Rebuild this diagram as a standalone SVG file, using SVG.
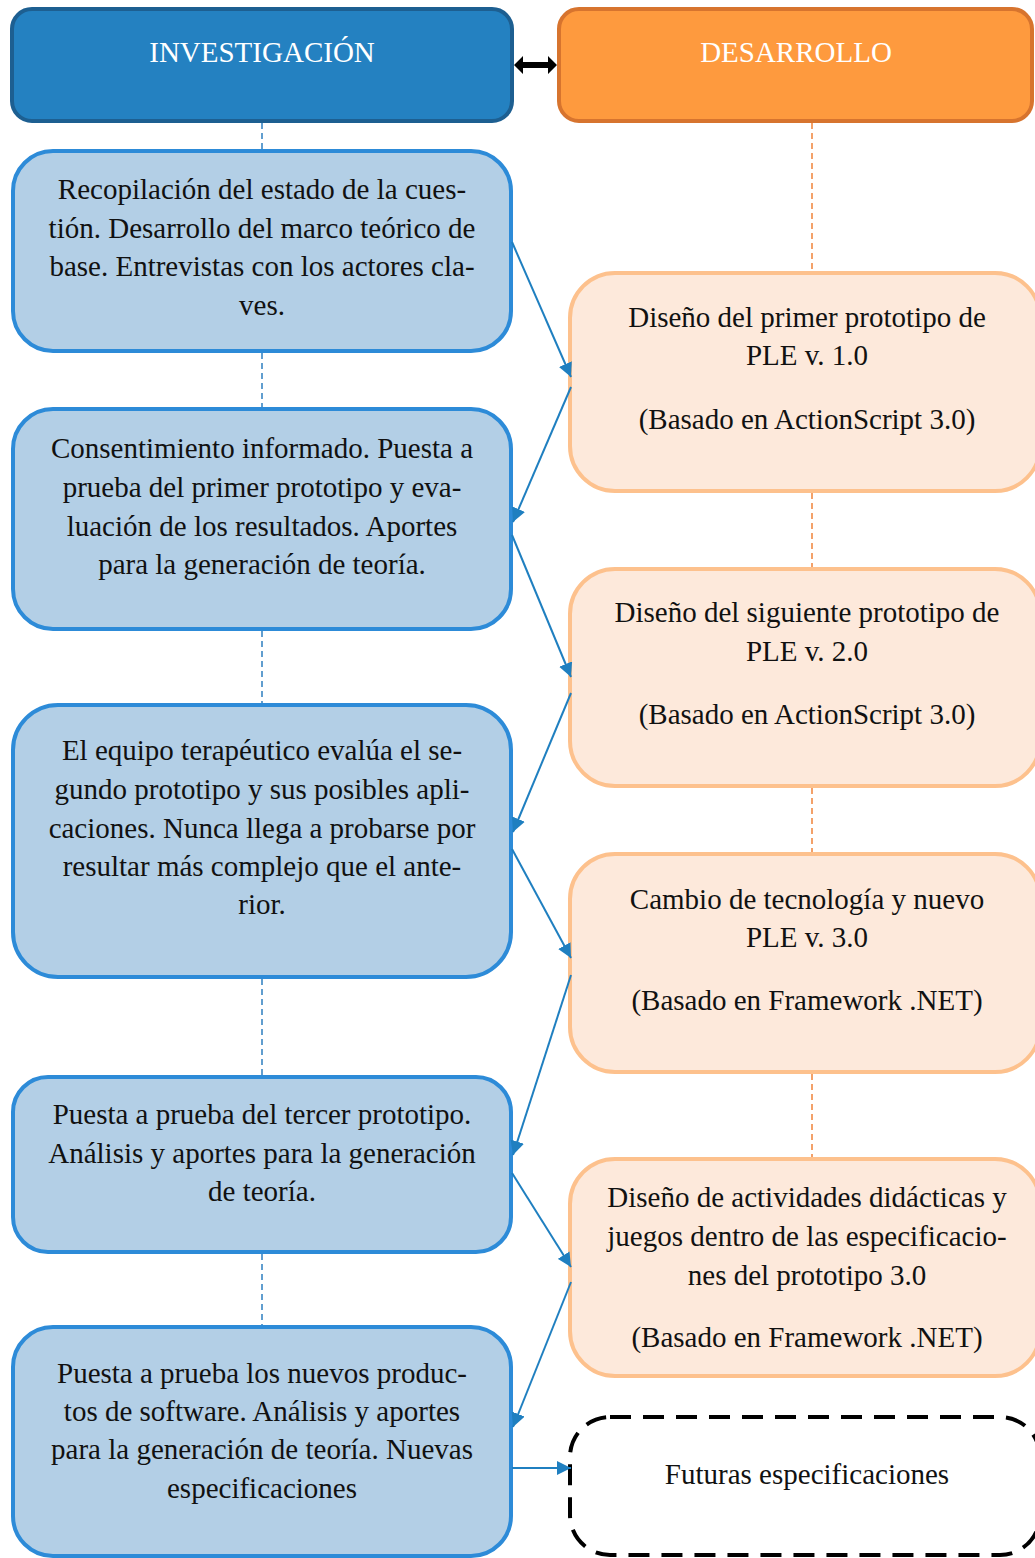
<svg xmlns="http://www.w3.org/2000/svg" width="1035" height="1558" viewBox="0 0 1035 1558">
<defs>
<style>
.hdrL{fill:#2481C1;stroke:#1D5F91;stroke-width:4}
.hdrR{fill:#FE9A3E;stroke:#D7742E;stroke-width:4}
.inv{fill:#B3CFE6;stroke:#2D8BD8;stroke-width:4}
.dev{fill:#FDE9DB;stroke:#FDC18D;stroke-width:4}
.fut{fill:#FFFFFF;stroke:#000000;stroke-width:4;stroke-dasharray:21 12}
.ht{font-family:"Liberation Serif","Times New Roman",serif;font-size:29px;fill:#FFFFFF;text-anchor:middle}
.t{font-family:"Liberation Serif","Times New Roman",serif;font-size:29px;fill:#111111;text-anchor:middle}
.vl{stroke:#2E7FC0;stroke-width:1.5;stroke-dasharray:6 4;fill:none}
.vr{stroke:#F0823A;stroke-width:1.5;stroke-dasharray:6 4;fill:none}
.c{stroke:#1F7FC0;stroke-width:2;fill:none;marker-end:url(#ah)}
</style>
<marker id="ah" markerUnits="userSpaceOnUse" markerWidth="16" markerHeight="14" refX="14" refY="7" orient="auto">
<path d="M0,0 L14,7 L0,14 Z" fill="#1F7FC0"/>
</marker>
</defs>

<g id="hdr-investigacion">
<rect class="hdrL" x="12" y="9" width="500" height="112" rx="20"/>
<text class="ht" x="262" y="62">INVESTIGACIÓN</text>
</g>
<g id="hdr-desarrollo">
<rect class="hdrR" x="559" y="9" width="473" height="112" rx="20"/>
<text class="ht" x="796" y="62">DESARROLLO</text>
</g>

<g id="inv1">
<rect class="inv" x="13" y="151" width="498" height="200" rx="40"/>
<text class="t" x="262" y="199">Recopilación del estado de la cues-</text>
<text class="t" x="262" y="237.5">tión. Desarrollo del marco teórico de</text>
<text class="t" x="262" y="276">base. Entrevistas con los actores cla-</text>
<text class="t" x="262" y="314.5">ves.</text>
</g>
<g id="inv2">
<rect class="inv" x="13" y="409" width="498" height="220" rx="40"/>
<text class="t" x="262" y="458">Consentimiento informado. Puesta a</text>
<text class="t" x="262" y="497">prueba del primer prototipo y eva-</text>
<text class="t" x="262" y="536">luación de los resultados. Aportes</text>
<text class="t" x="262" y="574">para la generación de teoría.</text>
</g>
<g id="inv3">
<rect class="inv" x="13" y="705" width="498" height="272" rx="45"/>
<text class="t" x="262" y="760">El equipo terapéutico evalúa el se-</text>
<text class="t" x="262" y="799">gundo prototipo y sus posibles apli-</text>
<text class="t" x="262" y="838">caciones. Nunca llega a probarse por</text>
<text class="t" x="262" y="876">resultar más complejo que el ante-</text>
<text class="t" x="262" y="914">rior.</text>
</g>
<g id="inv4">
<rect class="inv" x="13" y="1077" width="498" height="175" rx="35"/>
<text class="t" x="262" y="1124">Puesta a prueba del tercer prototipo.</text>
<text class="t" x="262" y="1163">Análisis y aportes para la generación</text>
<text class="t" x="262" y="1201">de teoría.</text>
</g>
<g id="inv5">
<rect class="inv" x="13" y="1327" width="498" height="229" rx="40"/>
<text class="t" x="262" y="1383">Puesta a prueba los nuevos produc-</text>
<text class="t" x="262" y="1421">tos de software. Análisis y aportes</text>
<text class="t" x="262" y="1459">para la generación de teoría. Nuevas</text>
<text class="t" x="262" y="1498">especificaciones</text>
</g>

<g id="dev1">
<rect class="dev" x="570" y="273" width="470" height="218" rx="45"/>
<text class="t" x="807" y="327">Diseño del primer prototipo de</text>
<text class="t" x="807" y="365">PLE v. 1.0</text>
<text class="t" x="807" y="429">(Basado en ActionScript 3.0)</text>
</g>
<g id="dev2">
<rect class="dev" x="570" y="569" width="470" height="217" rx="45"/>
<text class="t" x="807" y="622">Diseño del siguiente prototipo de</text>
<text class="t" x="807" y="661">PLE v. 2.0</text>
<text class="t" x="807" y="724">(Basado en ActionScript 3.0)</text>
</g>
<g id="dev3">
<rect class="dev" x="570" y="854" width="470" height="218" rx="45"/>
<text class="t" x="807" y="909">Cambio de tecnología y nuevo</text>
<text class="t" x="807" y="947">PLE v. 3.0</text>
<text class="t" x="807" y="1010">(Basado en Framework .NET)</text>
</g>
<g id="dev4">
<rect class="dev" x="570" y="1159" width="470" height="217" rx="45"/>
<text class="t" x="807" y="1207">Diseño de actividades didácticas y</text>
<text class="t" x="807" y="1246">juegos dentro de las especificacio-</text>
<text class="t" x="807" y="1285">nes del prototipo 3.0</text>
<text class="t" x="807" y="1347">(Basado en Framework .NET)</text>
</g>
<g id="futuras">
<rect class="fut" x="570" y="1417" width="470" height="138" rx="40"/>
<text class="t" x="807" y="1484">Futuras especificaciones</text>
</g>

<g id="connectors">
<line class="vl" x1="262" y1="123" x2="262" y2="149"/>
<line class="vl" x1="262" y1="353" x2="262" y2="407"/>
<line class="vl" x1="262" y1="631" x2="262" y2="703"/>
<line class="vl" x1="262" y1="979" x2="262" y2="1075"/>
<line class="vl" x1="262" y1="1254" x2="262" y2="1325"/>
<line class="vr" x1="812" y1="123" x2="812" y2="271"/>
<line class="vr" x1="812" y1="493" x2="812" y2="567"/>
<line class="vr" x1="812" y1="788" x2="812" y2="852"/>
<line class="vr" x1="812" y1="1074" x2="812" y2="1157"/>
<line class="c" x1="512" y1="242" x2="571" y2="377"/>
<line class="c" x1="571" y1="387" x2="513" y2="522"/>
<line class="c" x1="512" y1="535" x2="571" y2="677"/>
<line class="c" x1="571" y1="693" x2="513" y2="832"/>
<line class="c" x1="512" y1="849" x2="571" y2="958"/>
<line class="c" x1="571" y1="975" x2="513" y2="1155"/>
<line class="c" x1="512" y1="1173" x2="571" y2="1267"/>
<line class="c" x1="571" y1="1282" x2="513" y2="1427"/>
<line class="c" x1="512" y1="1468" x2="571" y2="1468"/>
<polygon points="514,65 523,56 523,62 548,62 548,56 557,65 548,74 548,68 523,68 523,74" fill="#000000"/>
</g>
</svg>
